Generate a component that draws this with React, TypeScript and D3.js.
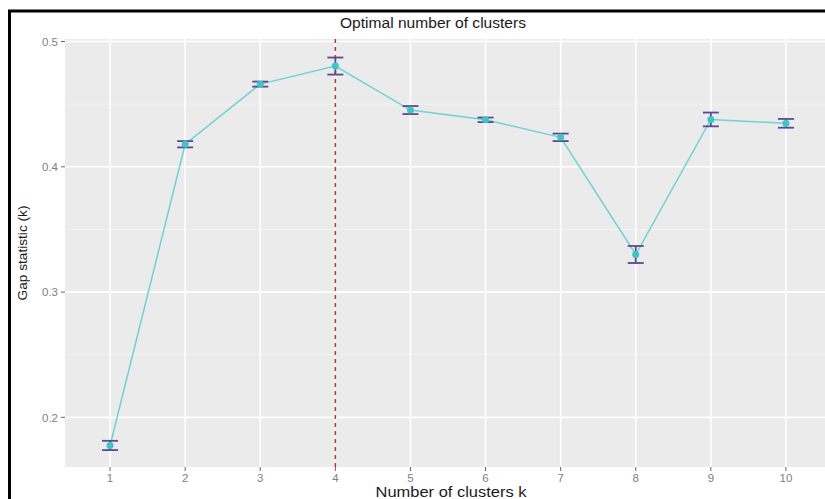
import { useRef, useEffect } from 'react';
import * as d3 from 'd3';

// number of clusters k and the gap statistic
const clusterK = [1, 2, 3, 4, 5, 6, 7, 8, 9, 10];
const gapValues = [0.1776, 0.418, 0.466, 0.4804, 0.4453, 0.4375, 0.4235, 0.33, 0.4378, 0.4347];
const gapSE = [0.0037, 0.0025, 0.002, 0.0068, 0.0032, 0.0018, 0.003, 0.0068, 0.0055, 0.0035];
const yTicks = [0.2, 0.3, 0.4, 0.5];
const yMinorTicks = [0.25, 0.35, 0.45];
const optimalK = 4;

function App() {
  const svgRef = useRef(null);

  useEffect(() => {
    const width = 825;
    const height = 499;
    const panel = { left: 65, right: 831, top: 39, bottom: 467 };

    const svg = d3.select(svgRef.current);
    svg.selectAll('*').remove();

    const x = d3.scaleLinear().domain([0.4, 10.6]).range([panel.left, panel.right]);
    const y = d3.scaleLinear().domain([0.1604, 0.502]).range([panel.bottom, panel.top]);

    const font = "'Liberation Sans', Arial, sans-serif";

    svg.append('rect').attr('width', width).attr('height', height).attr('fill', '#ffffff');

    // panel background
    svg
      .append('rect')
      .attr('x', panel.left)
      .attr('y', panel.top)
      .attr('width', panel.right - panel.left)
      .attr('height', panel.bottom - panel.top)
      .attr('fill', '#ebebeb');

    const grid = svg.append('g');
    grid
      .selectAll('line.minor')
      .data(yMinorTicks)
      .enter()
      .append('line')
      .attr('x1', panel.left)
      .attr('x2', panel.right)
      .attr('y1', d => y(d))
      .attr('y2', d => y(d))
      .attr('stroke', '#f6f6f6')
      .attr('stroke-width', 0.8);
    grid
      .selectAll('line.hmajor')
      .data(yTicks)
      .enter()
      .append('line')
      .attr('x1', panel.left)
      .attr('x2', panel.right)
      .attr('y1', d => y(d))
      .attr('y2', d => y(d))
      .attr('stroke', '#ffffff')
      .attr('stroke-width', 1.6);
    grid
      .selectAll('line.vmajor')
      .data(clusterK)
      .enter()
      .append('line')
      .attr('x1', d => x(d))
      .attr('x2', d => x(d))
      .attr('y1', panel.top)
      .attr('y2', panel.bottom)
      .attr('stroke', '#ffffff')
      .attr('stroke-width', 1.6);

    // vertical dashed line at the optimal k
    svg
      .append('line')
      .attr('x1', x(optimalK))
      .attr('x2', x(optimalK))
      .attr('y1', panel.top)
      .attr('y2', panel.bottom)
      .attr('stroke', '#c0312b')
      .attr('stroke-width', 1.5)
      .attr('stroke-dasharray', '4,4');

    const series = clusterK.map((k, i) => ({ k, gap: gapValues[i], se: gapSE[i] }));

    const line = d3
      .line()
      .x(d => x(d.k))
      .y(d => y(d.gap));

    svg
      .append('path')
      .datum(series)
      .attr('d', line)
      .attr('fill', 'none')
      .attr('stroke', '#6fd3d3')
      .attr('stroke-width', 1.5);

    // error bars
    const capHalf = 8;
    const bars = svg.append('g').attr('stroke', '#5a4a90').attr('stroke-width', 1.8);
    bars
      .selectAll('line.stem')
      .data(series)
      .enter()
      .append('line')
      .attr('x1', d => x(d.k))
      .attr('x2', d => x(d.k))
      .attr('y1', d => y(d.gap - d.se))
      .attr('y2', d => y(d.gap + d.se));
    bars
      .selectAll('line.top')
      .data(series)
      .enter()
      .append('line')
      .attr('x1', d => x(d.k) - capHalf)
      .attr('x2', d => x(d.k) + capHalf)
      .attr('y1', d => y(d.gap + d.se))
      .attr('y2', d => y(d.gap + d.se));
    bars
      .selectAll('line.bottom')
      .data(series)
      .enter()
      .append('line')
      .attr('x1', d => x(d.k) - capHalf)
      .attr('x2', d => x(d.k) + capHalf)
      .attr('y1', d => y(d.gap - d.se))
      .attr('y2', d => y(d.gap - d.se));

    svg
      .selectAll('circle')
      .data(series)
      .enter()
      .append('circle')
      .attr('cx', d => x(d.k))
      .attr('cy', d => y(d.gap))
      .attr('r', 3.5)
      .attr('fill', '#3fc4c8');

    // axes
    const yAxis = svg.append('g');
    yAxis
      .selectAll('line')
      .data(yTicks)
      .enter()
      .append('line')
      .attr('x1', panel.left - 4)
      .attr('x2', panel.left)
      .attr('y1', d => y(d))
      .attr('y2', d => y(d))
      .attr('stroke', '#666');
    yAxis
      .selectAll('text')
      .data(yTicks)
      .enter()
      .append('text')
      .attr('x', panel.left - 7)
      .attr('y', d => y(d))
      .attr('dy', '0.36em')
      .attr('text-anchor', 'end')
      .style('font-family', font)
      .style('font-size', '11.5px')
      .style('fill', '#808080')
      .text(d => d3.format('.1f')(d));

    const xAxis = svg.append('g');
    xAxis
      .selectAll('line')
      .data(clusterK)
      .enter()
      .append('line')
      .attr('x1', d => x(d))
      .attr('x2', d => x(d))
      .attr('y1', panel.bottom)
      .attr('y2', panel.bottom + 4)
      .attr('stroke', '#666');
    xAxis
      .selectAll('text')
      .data(clusterK)
      .enter()
      .append('text')
      .attr('x', d => x(d))
      .attr('y', panel.bottom + 15)
      .attr('text-anchor', 'middle')
      .style('font-family', font)
      .style('font-size', '11.5px')
      .style('fill', '#808080')
      .text(d => d);

    svg
      .append('text')
      .attr('x', 433)
      .attr('y', 28)
      .attr('text-anchor', 'middle')
      .attr('textLength', 186)
      .attr('lengthAdjust', 'spacingAndGlyphs')
      .style('font-family', font)
      .style('font-size', '14px')
      .style('fill', '#1a1a1a')
      .text('Optimal number of clusters');

    svg
      .append('text')
      .attr('x', 451)
      .attr('y', 497)
      .attr('text-anchor', 'middle')
      .attr('textLength', 151)
      .attr('lengthAdjust', 'spacingAndGlyphs')
      .style('font-family', font)
      .style('font-size', '14px')
      .style('fill', '#1a1a1a')
      .text('Number of clusters k');

    svg
      .append('text')
      .attr('transform', 'translate(27,253) rotate(-90)')
      .attr('text-anchor', 'middle')
      .attr('textLength', 95)
      .attr('lengthAdjust', 'spacingAndGlyphs')
      .style('font-family', font)
      .style('font-size', '13px')
      .style('fill', '#1a1a1a')
      .text('Gap statistic (k)');

    // black frame, cut off at the right and bottom edges
    svg
      .append('rect')
      .attr('x', 9.5)
      .attr('y', 11)
      .attr('width', width)
      .attr('height', height)
      .attr('fill', 'none')
      .attr('stroke', '#000')
      .attr('stroke-width', 3);
  }, []);

  return (
    <svg
      ref={svgRef}
      width={825}
      height={499}
      style={{ position: 'absolute', left: 0, top: 0, display: 'block' }}
    />
  );
}

export default App;
